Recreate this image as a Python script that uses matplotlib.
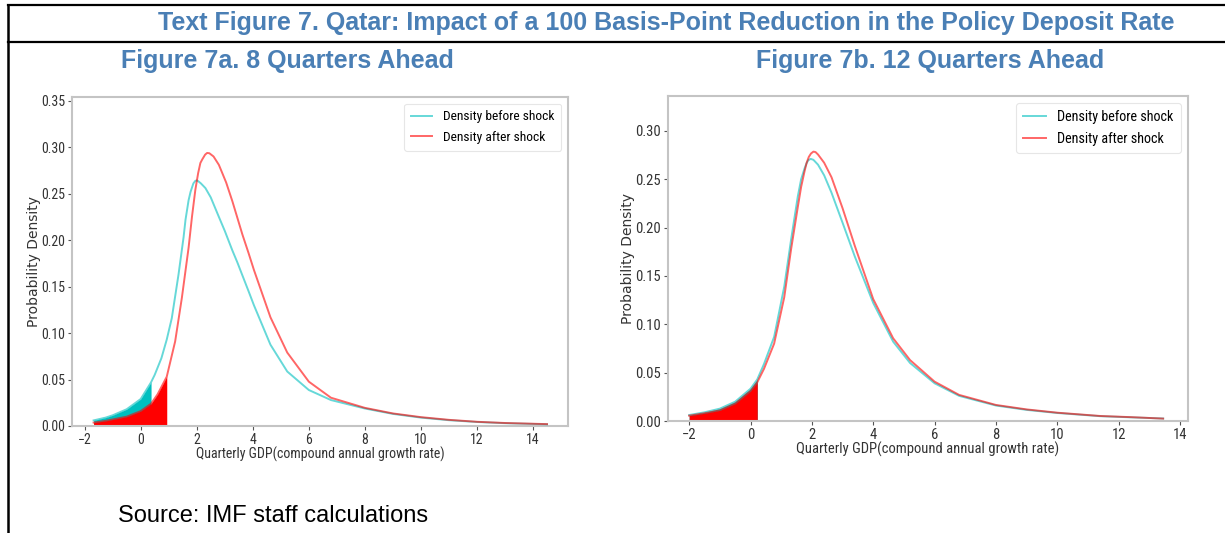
import matplotlib
matplotlib.use("Agg")
import matplotlib.pyplot as plt
from matplotlib import font_manager
from matplotlib.lines import Line2D
import numpy as np

TITLE = "Text Figure 7. Qatar: Impact of a 100 Basis-Point Reduction in the Policy Deposit Rate"
PANEL_TITLES = ["Figure 7a. 8 Quarters Ahead", "Figure 7b. 12 Quarters Ahead"]
SOURCE = "Source: IMF staff calculations"
XLABEL = "Quarterly GDP(compound annual growth rate)"
YLABEL = "Probability Density"
LEGEND_LABELS = ["Density before shock", "Density after shock"]

# 7a: 8 quarters ahead
a_before_x = [-1.68, -1.25, -1.0, -0.5, 0.0, 0.37, 0.5, 0.74, 0.93, 1.11, 1.35, 1.53, 1.6,
              1.71, 1.78, 1.88, 1.95, 2.0, 2.05, 2.15, 2.31, 2.5, 2.79, 3.0, 3.27, 3.45,
              3.63, 3.85, 4.04, 4.63, 5.23, 6.0, 6.79, 8.0, 9.0, 10.0, 11.0, 12.0, 13.0, 14.5]
a_before_y = [0.006, 0.009, 0.0115, 0.018, 0.029, 0.047, 0.055, 0.073, 0.093, 0.116, 0.163,
              0.203, 0.222, 0.243, 0.252, 0.261, 0.2638, 0.2642, 0.2635, 0.261, 0.256,
              0.246, 0.225, 0.21, 0.189, 0.176, 0.162, 0.145, 0.130, 0.0875, 0.0586,
              0.0387, 0.0279, 0.0188, 0.013, 0.009, 0.0062, 0.0043, 0.003, 0.0018]
a_after_x = [-1.68, -1.25, -1.0, -0.5, 0.0, 0.37, 0.6, 0.93, 1.23, 1.47, 1.71, 1.83, 1.95,
             2.05, 2.13, 2.2, 2.3, 2.37, 2.45, 2.6, 2.79, 2.9, 3.05, 3.27, 3.45, 3.63,
             3.85, 4.04, 4.63, 5.23, 6.0, 6.79, 8.0, 9.0, 10.0, 11.0, 12.0, 13.0, 14.5]
a_after_y = [0.0036, 0.0055, 0.007, 0.010, 0.016, 0.024, 0.034, 0.053, 0.091, 0.138, 0.192,
             0.225, 0.254, 0.272, 0.283, 0.287, 0.292, 0.2938, 0.2935, 0.290, 0.281, 0.273,
             0.262, 0.242, 0.224, 0.206, 0.186, 0.168, 0.117, 0.079, 0.0477, 0.0304,
             0.0195, 0.0135, 0.0095, 0.0066, 0.0045, 0.0032, 0.002]
a_cut_before = 0.37
a_cut_after = 0.93

# 7b: 12 quarters ahead
b_before_x = [-2.0, -1.5, -1.0, -0.5, 0.0, 0.22, 0.44, 0.77, 1.1, 1.32, 1.54, 1.65, 1.76,
              1.82, 1.88, 1.96, 2.05, 2.2, 2.4, 2.64, 3.0, 3.4, 4.0, 4.65, 5.2, 6.0, 6.8,
              8.0, 9.0, 10.0, 11.4, 12.4, 13.45]
b_before_y = [0.0062, 0.009, 0.0128, 0.020, 0.0334, 0.043, 0.059, 0.087, 0.139, 0.187,
              0.232, 0.25, 0.261, 0.266, 0.2695, 0.271, 0.270, 0.265, 0.254, 0.236, 0.205,
              0.170, 0.122, 0.082, 0.060, 0.039, 0.026, 0.016, 0.0115, 0.0083, 0.005,
              0.0038, 0.0026]
b_after_x = [-2.0, -1.5, -1.0, -0.5, 0.0, 0.22, 0.44, 0.77, 1.1, 1.32, 1.54, 1.65, 1.76,
             1.83, 1.9, 1.97, 2.05, 2.12, 2.2, 2.4, 2.64, 3.0, 3.4, 4.0, 4.65, 5.2, 6.0,
             6.8, 8.0, 9.0, 10.0, 11.4, 12.4, 13.45]
b_after_y = [0.0055, 0.008, 0.011, 0.018, 0.031, 0.040, 0.054, 0.080, 0.128, 0.177, 0.221,
             0.242, 0.258, 0.267, 0.273, 0.2765, 0.2785, 0.278, 0.2755, 0.267, 0.252,
             0.220, 0.181, 0.126, 0.0855, 0.063, 0.0407, 0.027, 0.0166, 0.012, 0.0086,
             0.0052, 0.004, 0.0025]
b_cut_before = 0.22
b_cut_after = 0.22

BLUE = "#4a7fb5"
SPINE = "#c4c4c4"


def narrow_font():
    # the pasted plot is squeezed sideways, so use a condensed face if there is one
    for fam in ["Liberation Sans Narrow", "Roboto Condensed", "Open Sans Condensed"]:
        try:
            font_manager.findfont(fam, fallback_to_default=False)
            return font_manager.FontProperties(family=fam)
        except Exception:
            pass
    for f in font_manager.fontManager.ttflist:
        if f.name == "DejaVu Sans" and "condensed" in str(f.stretch).lower() \
                and f.style == "normal" and f.weight in (400, "normal"):
            return font_manager.FontProperties(fname=f.fname)
    for f in font_manager.fontManager.ttflist:
        if "Condensed" in f.fname and "Bold" not in f.fname and "Oblique" not in f.fname \
                and "Italic" not in f.fname:
            return font_manager.FontProperties(fname=f.fname)
    return font_manager.FontProperties(family="Roboto")


def props(size):
    p = NARROW.copy()
    p.set_size(size)
    return p


NARROW = narrow_font()

panels = [
    dict(bx=a_before_x, by=a_before_y, ax_=a_after_x, ay=a_after_y,
         cb=a_cut_before, ca=a_cut_after, fs=10.0,
         rect=[0.0588, 0.2008, 0.4049, 0.6172], xlim=(-2.45, 15.25), ylim=(0, 0.354),
         yticks=np.arange(0, 0.351, 0.05), xticks=np.arange(-2, 15, 2)),
    dict(bx=b_before_x, by=b_before_y, ax_=b_after_x, ay=b_after_y,
         cb=b_cut_before, ca=b_cut_after, fs=10.5,
         rect=[0.5453, 0.2101, 0.4245, 0.6098], xlim=(-2.69, 14.26), ylim=(0, 0.336),
         yticks=np.arange(0, 0.301, 0.05), xticks=np.arange(-2, 15, 2)),
]

fig = plt.figure(figsize=(12.25, 5.33), dpi=100)

# frame lines around the text figure
fig.add_artist(Line2D([8 / 1225, 1], [1 - 5 / 533, 1 - 5 / 533], color="black", lw=1.6))
fig.add_artist(Line2D([8 / 1225, 1], [1 - 42 / 533, 1 - 42 / 533], color="black", lw=1.6))
fig.add_artist(Line2D([8 / 1225, 8 / 1225], [0, 1 - 5 / 533], color="black", lw=1.8))

fig.text(666 / 1225, 1 - 23 / 533, TITLE, ha="center", va="center", color=BLUE,
         fontsize=18, fontweight="bold", family="Liberation Sans")
fig.text(287 / 1225, 1 - 61 / 533, PANEL_TITLES[0], ha="center", va="center", color=BLUE,
         fontsize=18, fontweight="bold", family="Liberation Sans")
fig.text(930 / 1225, 1 - 61 / 533, PANEL_TITLES[1], ha="center", va="center", color=BLUE,
         fontsize=18, fontweight="bold", family="Liberation Sans")
fig.text(118 / 1225, 1 - 516 / 533, SOURCE, ha="left", va="center", color="black",
         fontsize=17, family="Liberation Sans")

for p in panels:
    ax = fig.add_axes(p["rect"])
    bx, by = np.array(p["bx"]), np.array(p["by"])
    axx, ay = np.array(p["ax_"]), np.array(p["ay"])
    fs = p["fs"]

    mb = bx <= p["cb"] + 1e-9
    ma = axx <= p["ca"] + 1e-9
    ax.fill_between(bx[mb], 0, by[mb], color="c", lw=0, zorder=1)
    ax.fill_between(axx[ma], 0, ay[ma], color="red", lw=0, zorder=2)
    ax.plot(bx, by, color="c", alpha=0.6, lw=1.4, label=LEGEND_LABELS[0], zorder=3)
    ax.plot(axx, ay, color="red", alpha=0.6, lw=1.4, label=LEGEND_LABELS[1], zorder=3)

    ax.set_xlim(*p["xlim"])
    ax.set_ylim(*p["ylim"])
    ax.set_xticks(p["xticks"])
    ax.set_yticks(p["yticks"])
    ax.set_xticklabels(["\u22122" if t < 0 else str(int(t)) for t in p["xticks"]],
                       fontproperties=props(fs))
    ax.set_yticklabels([f"{t:.2f}" for t in p["yticks"]], fontproperties=props(fs))
    for s in ax.spines.values():
        s.set_color(SPINE)
        s.set_linewidth(1.5)
    ax.tick_params(colors="#555555", length=3, width=0.8, labelcolor="#333333", pad=2)
    ax.set_xlabel(XLABEL, fontproperties=props(fs), color="#333333", labelpad=0)
    ax.set_ylabel(YLABEL, fontsize=10, color="#333333", labelpad=0)
    leg = ax.legend(loc="upper right", prop=props(fs - 0.3),
                    frameon=True, handlelength=1.6, borderpad=0.5, labelspacing=0.55)
    leg.get_frame().set_edgecolor("#e0e0e0")
    leg.get_frame().set_linewidth(0.8)

fig.savefig("out.png", dpi=100)
